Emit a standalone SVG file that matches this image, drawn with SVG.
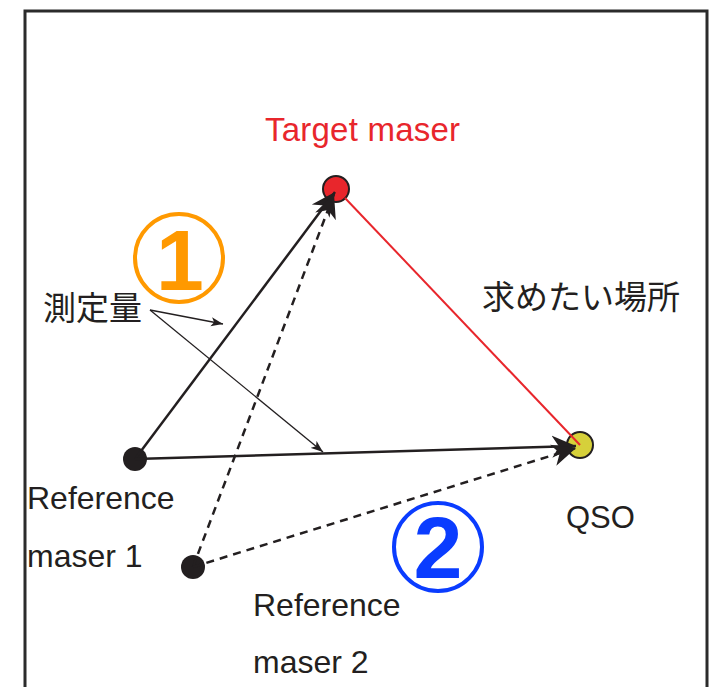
<svg xmlns="http://www.w3.org/2000/svg" width="712" height="687" viewBox="0 0 712 687">
<defs>
<style>
.lbl{font-family:"Liberation Sans",Arial,sans-serif;font-size:32px;fill:#231f20}
.jp{font-family:"Noto Sans CJK JP","Noto Sans CJK SC",sans-serif;font-size:33px;fill:#231f20}
.conn{stroke:#231f20;stroke-width:2.5;fill:none}
.dash{stroke-dasharray:8 6}
.thin{stroke:#231f20;stroke-width:1.3;fill:none}
.num{font-family:"Liberation Sans",Arial,sans-serif;font-weight:bold;font-size:88px;text-anchor:middle}
</style>
<marker id="head" markerUnits="userSpaceOnUse" viewBox="0 0 24 24" refX="24" refY="12" markerWidth="24" markerHeight="24" orient="auto">
<path d="M24,12 L0,1 L7,12 L0,23 Z" fill="#231f20"/>
</marker>
<marker id="small" markerUnits="userSpaceOnUse" viewBox="0 0 12 10" refX="12" refY="5" markerWidth="12" markerHeight="10" orient="auto">
<path d="M12,5 L0,0.5 L3,5 L0,9.5 Z" fill="#231f20"/>
</marker>
</defs>
<rect x="25" y="11" width="682" height="700" fill="#ffffff" stroke="#2b2b2b" stroke-width="3"/>

<g id="target">
<circle cx="336" cy="189" r="13" fill="#e8262c" stroke="#231f20" stroke-width="2"/>
<text class="lbl" x="265" y="141" textLength="195" style="fill:#e8262c;font-size:33px">Target maser</text>
</g>
<g id="qso">
<circle cx="580" cy="445" r="13" fill="#d6d03a" stroke="#231f20" stroke-width="2"/>
<text class="lbl" x="566" y="528" style="font-size:31px">QSO</text>
</g>
<g id="ref1">
<circle cx="135" cy="459" r="12" fill="#231f20"/>
<text class="lbl" x="27" y="509">Reference</text>
<text class="lbl" x="27" y="567">maser 1</text>
</g>
<g id="ref2">
<circle cx="193" cy="567" r="12" fill="#231f20"/>
<text class="lbl" x="253" y="616">Reference</text>
<text class="lbl" x="253" y="673">maser 2</text>
</g>
<g id="measured">
<text class="jp" x="43" y="320">測定量</text>
</g>
<g id="wanted">
<text class="jp" x="482" y="309">求めたい場所</text>
</g>
<g id="num1">
<circle cx="179" cy="258" r="44" fill="none" stroke="#ff9900" stroke-width="4"/>
<text class="num" x="180" y="290" fill="#ff9900" style="font-size:86px">1</text>
</g>
<g id="num2">
<circle cx="438" cy="547" r="44" fill="none" stroke="#0a3cff" stroke-width="4"/>
<text class="num" x="438" y="578" fill="#0a3cff">2</text>
</g>

<g id="connectors">
<line x1="345" y1="198" x2="580" y2="445" stroke="#e8262c" stroke-width="2"/>
<line class="conn" x1="135" y1="459" x2="335" y2="192" marker-end="url(#head)"/>
<line class="conn" x1="135" y1="459" x2="576" y2="446" marker-end="url(#head)"/>
<line class="conn dash" x1="193" y1="567" x2="334" y2="194" marker-end="url(#head)"/>
<line class="conn dash" x1="193" y1="567" x2="576" y2="448" marker-end="url(#head)"/>
<line class="thin" x1="150" y1="310" x2="223" y2="324" marker-end="url(#small)"/>
<line class="thin" x1="150" y1="310" x2="323" y2="452" marker-end="url(#small)"/>
</g>
</svg>
